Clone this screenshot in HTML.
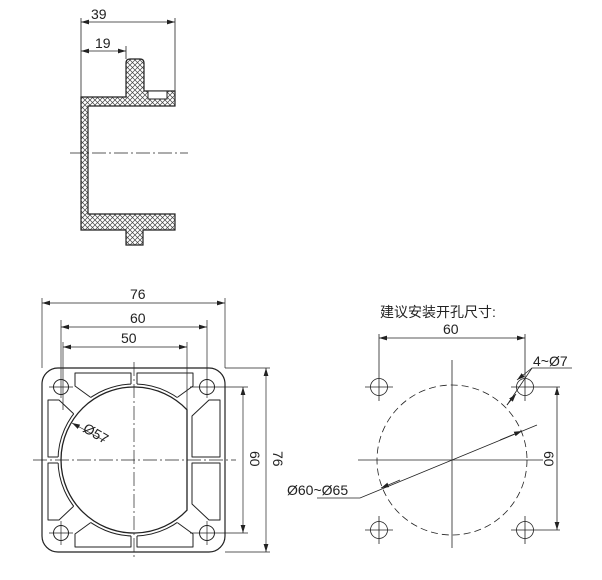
<!DOCTYPE html>
<html><head><meta charset="utf-8"><style>
html,body{margin:0;padding:0;background:#fff}
svg{display:block}
text{font-family:"Liberation Sans","Noto Sans CJK SC",sans-serif;font-size:14px;fill:#222}
</style></head><body>
<svg width="602" height="580" viewBox="0 0 602 580" xmlns="http://www.w3.org/2000/svg">
<defs>
<marker id="a" viewBox="0 0 10 6" refX="10" refY="3" markerWidth="8" markerHeight="5" orient="auto-start-reverse" markerUnits="userSpaceOnUse"><path d="M0,0L10,3L0,6z" fill="#222"/></marker>
<pattern id="h" width="5" height="5" patternUnits="userSpaceOnUse"><path d="M0,0L5,5M5,0L0,5" stroke="#444" stroke-width="0.7"/></pattern>
<g id="pk">
<polygon points="75,373 131,373 131,402 97,402 75,386"/>
<polygon points="48,400 59,400 76,416 76,457 48,457"/>
</g>
<mask id="m"><rect width="602" height="580" fill="#fff"/><path d="M190,408.6A76,76 0 1 0 190,511.4Z" fill="#000"/></mask>
<clipPath id="c">
<polygon points="75,373 131,373 131,402 97,402 75,386"/><polygon points="48,400 59,400 76,416 76,457 48,457"/>
<polygon points="193,373 137,373 137,402 171,402 193,386"/><polygon points="220,400 209,400 192,416 192,457 220,457"/>
<polygon points="75,547 131,547 131,518 97,518 75,534"/><polygon points="48,520 59,520 76,504 76,463 48,463"/>
<polygon points="193,547 137,547 137,518 171,518 193,534"/><polygon points="220,520 209,520 192,504 192,463 220,463"/>
</clipPath>
</defs>
<g fill="none" stroke="#222" stroke-width="1">
<!-- top view -->
<path d="M81,97H126V63Q126,59 130,59H140Q144,59 144,63V91H175V106H88V214H175V230H143V245H126V230H81Z" fill="url(#h)" stroke-width="1.2"/>
<rect x="148" y="91" width="19" height="8" fill="#fff"/>
<line x1="81" y1="18" x2="81" y2="97" stroke-width="0.8"/>
<line x1="175" y1="18" x2="175" y2="91" stroke-width="0.8"/>
<line x1="126" y1="46" x2="126" y2="59" stroke-width="0.8"/>
<line x1="81" y1="22" x2="175" y2="22" stroke-width="0.8" marker-start="url(#a)" marker-end="url(#a)"/>
<line x1="81" y1="51" x2="126" y2="51" stroke-width="0.8" marker-start="url(#a)" marker-end="url(#a)"/>
<line x1="70" y1="153" x2="188" y2="153" stroke-width="0.8" stroke-dasharray="14,3,2,3"/>
<!-- plate -->
<rect x="42" y="368" width="183" height="184" rx="16" stroke-width="1.2"/>
<g mask="url(#m)" stroke-linejoin="round">
<use href="#pk"/>
<use href="#pk" transform="translate(268,0) scale(-1,1)"/>
<use href="#pk" transform="translate(0,920) scale(1,-1)"/>
<use href="#pk" transform="translate(268,920) scale(-1,-1)"/>
</g>
<path d="M190,408.6A76,76 0 1 0 190,511.4Z" clip-path="url(#c)"/>
<path d="M187,409.8A73,73 0 1 0 187,510.2Z" stroke-width="1.3"/>
<g stroke-width="1">
<circle cx="61" cy="387" r="7.5"/><circle cx="207" cy="387" r="7.5"/><circle cx="61" cy="533" r="7.5"/><circle cx="207" cy="533" r="7.5"/>
</g>
<g stroke-width="0.7">
<path d="M49,387H73M49,533H73M61,521V545M207,521V545M190,387H248M190,533H248"/>
<path d="M61,320V398M207,320V398M63,342V410M187,342V410M42,298V368M225,298V368M225,368H270M225,552H270"/>
<line x1="33" y1="460" x2="236" y2="460" stroke-dasharray="14,3,2,3"/>
<line x1="134" y1="362" x2="134" y2="558" stroke-dasharray="14,3,2,3"/>
<line x1="42" y1="303" x2="225" y2="303" marker-start="url(#a)" marker-end="url(#a)"/>
<line x1="61" y1="327" x2="207" y2="327" marker-start="url(#a)" marker-end="url(#a)"/>
<line x1="63" y1="347" x2="187" y2="347" marker-start="url(#a)" marker-end="url(#a)"/>
<line x1="243" y1="387" x2="243" y2="533" marker-start="url(#a)" marker-end="url(#a)"/>
<line x1="266" y1="368" x2="266" y2="552" marker-start="url(#a)" marker-end="url(#a)"/>
<line x1="72" y1="423" x2="105" y2="441" marker-start="url(#a)"/>
</g>
<!-- right view -->
<g stroke-width="0.8">
<circle cx="379" cy="387" r="8.5"/><circle cx="525" cy="387" r="8.5"/><circle cx="379" cy="530" r="8.5"/><circle cx="525" cy="530" r="8.5"/>
<path d="M365,387H393M379,373V401M365,530H393M379,516V544M511,530H539M525,516V544M511,387H560M525,373V401M511,530H560"/>
<path d="M379,334V373M525,334V373"/>
<line x1="379" y1="338" x2="525" y2="338" marker-start="url(#a)" marker-end="url(#a)"/>
<line x1="557" y1="387" x2="557" y2="530" marker-start="url(#a)" marker-end="url(#a)"/>
<circle cx="452" cy="460" r="75" stroke-dasharray="7,4"/>
<line x1="358" y1="460" x2="543" y2="460"/>
<line x1="452" y1="360" x2="452" y2="548"/>
<path d="M572,368H532L507,405"/>
<line x1="532" y1="368" x2="517" y2="380" marker-end="url(#a)"/>
<line x1="507" y1="405" x2="516" y2="394" marker-end="url(#a)"/>
<path d="M317,498H360L537,425"/>
<line x1="400" y1="480" x2="381" y2="488" marker-end="url(#a)"/>
<line x1="500" y1="440" x2="522" y2="431" marker-end="url(#a)"/>
</g>
</g>
<g>
<text x="91" y="19">39</text>
<text x="95" y="48">19</text>
<text x="130" y="299">76</text>
<text x="130" y="323">60</text>
<text x="121" y="343">50</text>
<text x="443" y="334">60</text>
<text x="380" y="317">建议安装开孔尺寸:</text>
<text x="533" y="366">4~Ø7</text>
<text x="287" y="495">Ø60~Ø65</text>
<text transform="translate(82,431) rotate(30)">Ø57</text>
<text transform="translate(250,451) rotate(90)">60</text>
<text transform="translate(273,451) rotate(90)">76</text>
<text transform="translate(544,451) rotate(90)">60</text>
</g>
</svg>
</body></html>
